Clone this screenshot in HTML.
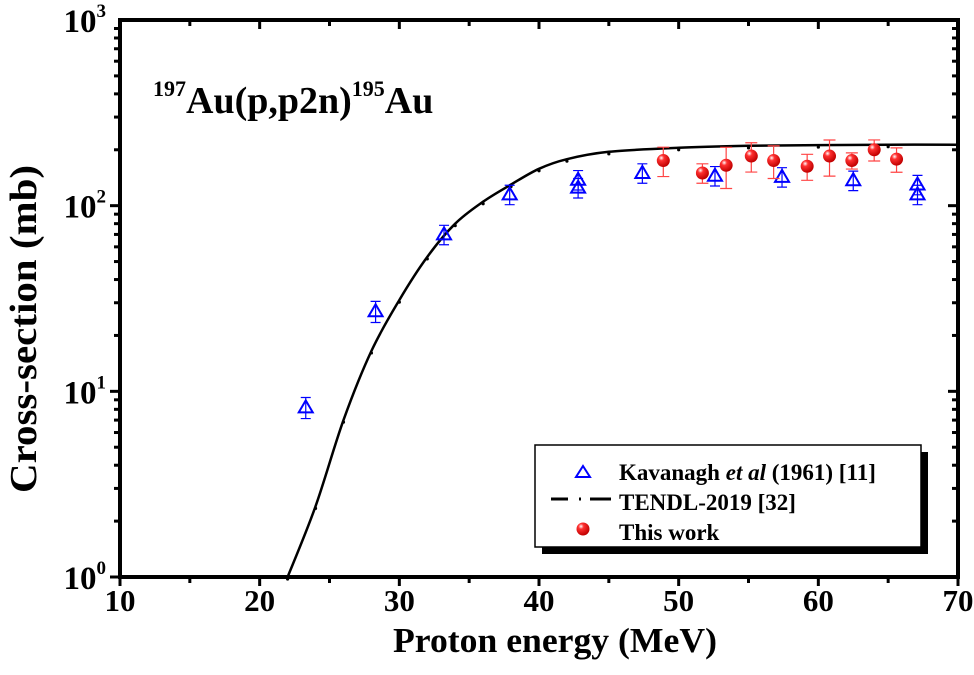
<!DOCTYPE html>
<html><head><meta charset="utf-8"><style>
body{margin:0;background:#fff;}
svg text{font-family:"Liberation Serif",serif;font-weight:bold;fill:#000;}
</style></head><body>
<svg width="974" height="670" xmlns="http://www.w3.org/2000/svg">
<g id="g"></g>
</svg>
<script>
const kavE=[23.3,28.3,33.2,37.9,42.8,42.8,47.4,52.6,57.4,62.5,67.1,67.1];
const kavY=[8.2,27,70,115,138,125,150,145,143,137,130,115];
const kavErr=[0.13,0.13,0.12,0.12,0.12,0.12,0.12,0.12,0.12,0.12,0.12,0.12];
const workE=[48.9,51.7,53.4,55.2,56.8,59.2,60.8,62.4,64.0,65.6];
const workY=[175,150,165,185,175,163,185,175,200,178];
const workErr=[0.18,0.12,0.25,0.18,0.2,0.16,0.22,0.1,0.13,0.15];
const tendlE=[22,24,26,28,30,32,34,36,38,40,42,45,50,55,60,65,70];
const tendlY=[1.0,2.4,7,16.5,31,53,80,105,130,158,178,195,205,210,212,213,213];
const xTicks=[10,20,30,40,50,60,70];
const yTicks=[0,1,2,3];

const X0=120,X1=958,Y0=577,Y1=20;
const sx=v=>X0+(v-10)*(X1-X0)/60;
const sy=v=>Y0-Math.log10(v)*(Y0-Y1)/3;
const NS="http://www.w3.org/2000/svg";
const g=document.getElementById('g');
function el(t,a,p){const e=document.createElementNS(NS,t);for(const k in a)e.setAttribute(k,a[k]);(p||g).appendChild(e);return e;}

const defs=el('defs',{});
const rg=el('radialGradient',{id:'ball',cx:'0.35',cy:'0.3',r:'0.7'},defs);
el('stop',{offset:'0','stop-color':'#fff'},rg);
el('stop',{offset:'0.3','stop-color':'#ff3030'},rg);
el('stop',{offset:'1','stop-color':'#c00000'},rg);

const frame=el('rect',{x:X0,y:Y1,width:X1-X0,height:Y0-Y1,fill:'none',stroke:'#000','stroke-width':4});



for(let v=10;v<=70;v+=5){
  const major=v%10===0, x=sx(v);
  el('line',{x1:x,y1:Y0,x2:x,y2:Y0+(major?9:6),stroke:'#000','stroke-width':3});
  el('line',{x1:x,y1:Y1,x2:x,y2:Y1+(major?9:6),stroke:'#000','stroke-width':3});
}
xTicks.forEach(v=>{
  const t=el('text',{x:sx(v),y:Y0+34,'text-anchor':'middle','font-size':31});
  t.textContent=v;
  
  
});
for(let d=0;d<3;d++){for(let m=1;m<=9;m++){
  const y=sy(Math.pow(10,d)*m), major=m===1;
  el('line',{x1:X0,y1:y,x2:X0-(major?10:6),y2:y,stroke:'#000','stroke-width':3});
  el('line',{x1:X1,y1:y,x2:X1-(major?10:6),y2:y,stroke:'#000','stroke-width':3});
}}
yTicks.forEach(d=>{
  const t=el('text',{x:X0-14,y:sy(Math.pow(10,d))+12,'text-anchor':'end','font-size':33});
  t.textContent='10';
  const s=el('tspan',{dy:-15,'font-size':19},t);s.textContent=d;
  
  
});
let t=el('text',{x:(X0+X1)/2+16,y:652,'text-anchor':'middle','font-size':35,textLength:324,lengthAdjust:'spacingAndGlyphs'});
t.textContent='Proton energy (MeV)';


t=el('text',{x:0,y:0,'text-anchor':'middle','font-size':38,textLength:328,lengthAdjust:'spacingAndGlyphs',transform:`translate(36,329) rotate(-90)`});
t.textContent='Cross-section (mb)';


t=el('text',{x:153,y:113,'font-size':38});
let s=el('tspan',{'font-size':22,dy:-17},t);s.textContent='197';
s=el('tspan',{dy:17},t);s.textContent='Au(p,p2n)';
s=el('tspan',{'font-size':22,dy:-17},t);s.textContent='195';
s=el('tspan',{dy:17},t);s.textContent='Au';



const clip=el('clipPath',{id:'pc'},defs);
el('rect',{x:X0,y:Y1,width:X1-X0,height:Y0-Y1},clip);
const P=tendlE.map((e,i)=>[sx(e),sy(tendlY[i])]);
let d='M'+P[0][0]+','+P[0][1];
for(let i=0;i<P.length-1;i++){
  const p0=P[Math.max(0,i-1)],p1=P[i],p2=P[i+1],p3=P[Math.min(P.length-1,i+2)];
  const c1=[p1[0]+(p2[0]-p0[0])/6,p1[1]+(p2[1]-p0[1])/6];
  const c2=[p2[0]-(p3[0]-p1[0])/6,p2[1]-(p3[1]-p1[1])/6];
  d+=`C${c1[0].toFixed(1)},${c1[1].toFixed(1)} ${c2[0].toFixed(1)},${c2[1].toFixed(1)} ${p2[0].toFixed(1)},${p2[1].toFixed(1)}`;
}
const ln=el('path',{d:d,fill:'none',stroke:'#000','stroke-width':2.5,'clip-path':'url(#pc)'});


tendlE.forEach((e,i)=>{
  const p=el('circle',{cx:sx(e),cy:sy(tendlY[i])+2,r:1.6,fill:'#000'});
  
  
});

kavE.forEach((e,i)=>{
  const x=sx(e),y=sy(kavY[i]);
  const hi=sy(kavY[i]*(1+kavErr[i])),lo=sy(kavY[i]*(1-kavErr[i]));
  el('path',{d:`M${x},${hi}V${lo}M${x-5},${hi}H${x+5}M${x-5},${lo}H${x+5}`,stroke:'#00f','stroke-width':1.2,fill:'none'});
  const tr=el('path',{d:`M${x},${y-7}L${x+7},${y+5}L${x-7},${y+5}Z`,fill:'none',stroke:'#00f','stroke-width':2});
  
  
});
workE.forEach((e,i)=>{
  const x=sx(e),y=sy(workY[i]);
  const hi=sy(workY[i]*(1+workErr[i])),lo=sy(workY[i]*(1-workErr[i]));
  el('path',{d:`M${x},${hi}V${lo}M${x-6},${hi}H${x+6}M${x-6},${lo}H${x+6}`,stroke:'#f44','stroke-width':1.2,fill:'none'});
  const c=el('circle',{cx:x,cy:y,r:6.5,fill:'url(#ball)'});
  
  
});

const lg=el('g',{});


el('rect',{x:542,y:452,width:386,height:102,fill:'#000'},lg);
el('rect',{x:535,y:445,width:386,height:102,fill:'#fff',stroke:'#000','stroke-width':1.5},lg);
el('path',{d:'M583,466L590,477L576,477Z',fill:'none',stroke:'#00f','stroke-width':2},lg);
el('path',{d:'M551,499H568M579,499H581M590,499H611',stroke:'#000','stroke-width':3},lg);
el('circle',{cx:583,cy:529,r:6.5,fill:'url(#ball)'},lg);
const rows=[['Kavanagh ',480],['TENDL-2019 [32]',510],['This work',540]];
rows.forEach((r,i)=>{
  const tt=el('text',{x:619,y:r[1],'font-size':23},lg);
  tt.textContent=r[0];
  if(i===0){let a=el('tspan',{'font-style':'italic'},tt);a.textContent='et al';a=el('tspan',{},tt);a.textContent=' (1961) [11]';}
  
  
});
</script>
</body></html>
